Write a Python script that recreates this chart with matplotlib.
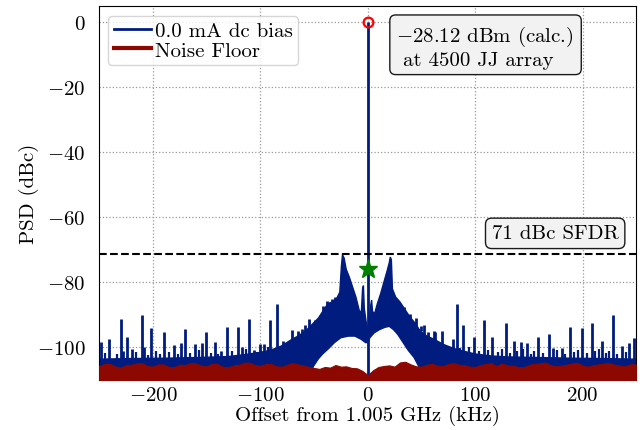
import matplotlib
matplotlib.use("Agg")
import matplotlib.pyplot as plt
from matplotlib.lines import Line2D

plt.rcParams["font.family"] = "serif"
plt.rcParams["font.serif"] = ["cmr10"]
plt.rcParams["mathtext.fontset"] = "cm"
plt.rcParams["axes.formatter.use_mathtext"] = True
plt.rcParams["font.size"] = 15

# ---------------- data ----------------
# upper envelope of the dense 0.0 mA spectrum (kHz, dBc)
env_f = [-250, -220, -190, -160, -130, -115, -100, -90, -80, -72, -65, -58, -52, -46,
         -41, -37, -33, -29, -26, -24.5, -23.5, -22, -20, -17, -14, -11, -8, -6, -4.8,
         -4.0, -3.2, -1.5, 0, 1.5, 2.8, 3.6, 4.5, 6.5, 9, 12, 15, 18, 20, 21, 22, 23, 26,
         30, 34, 39, 44, 49, 55, 62, 70, 80, 90, 100, 115, 130, 160, 190, 220, 250]
env_db = [-103.6, -103.4, -103.3, -103.1, -102.8, -102.2, -101.5, -100.8, -99.5, -97.8,
          -96.5, -95.0, -93.0, -91.0, -88.5, -86.5, -86.0, -85.0, -83.0, -75.0, -71.5,
          -72.5, -76.0, -78.5, -81.5, -84.5, -88.5, -89.5, -82.0, -81.0, -88.0, -92.0,
          -95.0, -91.5, -87.0, -85.5, -89.0, -89.5, -86.5, -83.5, -80.0, -76.5, -74.0,
          -72.2, -73.0, -82.0, -84.5, -86.0, -88.0, -90.5, -92.5, -95.0, -96.5, -97.5,
          -99.0, -100.3, -101.2, -102.0, -102.6, -102.9, -103.1, -103.3, -103.4, -103.6]

# lower edge of the blue region around the carrier (top of the white gap)
gap_f = [-51, -46, -42, -37, -31, -25, -18, -12, -6, -2, 0, 2, 6, 11, 16, 20, 24, 28,
         33, 38, 43, 47, 50]
gap_db = [-106.0, -103.5, -102.0, -100.5, -98.5, -97.0, -96.5, -96.5, -97.5, -98.5,
          -98.5, -97.0, -95.5, -94.5, -93.8, -93.5, -94.5, -96.0, -98.5, -101.0, -103.0,
          -105.5, -107.0]

# discrete spurs on the wideband floor (kHz, dBc)
spur_f = [-248.5, -240.5, -229.9, -227.5, -223.8, -219.8, -210.2, -208.0, -202.0,
          -189.8, -180.5, -174.0, -170.0, -160.8, -154.6, -150.3, -142.3, -136.4,
          -130.6, -121.0, -117.0, -110.5, -106.0, -100.6, -96.3, -90.7, -84.5, -79.0,
          -70.6, -64.5, -61.4, -58.3, -54.9,
          56.0, 61.5,
          52.8, 63.0, 68.8, 79.0, 82.7, 88.9, 99.0, 108.3, 116.0, 128.4, 136.0, 142.3,
          148.5, 158.3, 168.5, 172.2, 180.9, 188.0, 199.4, 208.6, 218.5, 228.7, 236.4,
          243.5, 247.9]
spur_db = [-98.3, -97.4, -91.2, -101.0, -96.9, -100.5, -90.0, -99.8, -94.1,
           -95.1, -99.2, -98.6, -94.4, -98.8, -98.7, -95.1, -98.3, -101.0,
           -93.7, -93.8, -100.0, -91.4, -100.9, -98.8, -98.8, -91.7, -86.6, -98.0,
           -94.6, -95.0, -94.3, -93.0, -91.2,
           -95.3, -95.0,
           -93.1, -95.1, -94.8, -97.4, -86.6, -93.0, -96.7, -91.7, -96.9, -92.5, -98.0,
           -98.3, -98.5, -96.7, -95.9, -100.2, -100.3, -93.6, -94.0, -92.5, -98.0, -90.0,
           -99.5, -98.7, -97.2]

# jagged peaks of the close-in skirt, above the white gap (kHz, dBc)
skirt_f = [-49.0, -44.4, -41.4, -38.3, -33.6, -30.6, 34.0, 39.0, 45.0, 49.7]
skirt_db = [-91.5, -91.0, -87.4, -85.6, -85.0, -84.5, -87.6, -89.6, -91.0, -93.5]
skirt_base = -95.0

# small spikes on the wideband floor (kHz, dBc)
small_f = [-245.0, -233.0, -216.0, -205.0, -197.0, -193.0, -185.0, -177.0, -165.0,
           -157.0, -146.0, -139.0, -126.0, -113.0, -103.0, -93.0, -87.0, -75.0, -67.0,
           74.0, 86.0, 94.0, 104.0, 112.0, 121.0, 125.0, 132.0, 139.0, 145.0, 152.0,
           155.0, 163.0, 176.0, 184.0, 192.0, 196.0, 204.0, 212.0, 215.0, 222.0, 225.0,
           232.0, 240.0]
small_db = [-101.8, -102.0, -101.5, -102.2, -101.0, -101.9, -101.3, -102.1, -101.6,
            -100.9, -101.7, -102.0, -101.2, -100.6, -101.4, -99.8, -100.5, -99.3, -98.8,
            -99.6, -100.2, -99.9, -101.0, -100.8, -101.5, -100.6, -101.8, -101.1, -100.4,
            -101.9, -101.0, -101.6, -100.9, -102.0, -101.3, -100.7, -101.8, -101.2,
            -100.5, -101.7, -101.0, -102.1, -101.4]

# noise floor (kHz, dBc), every 5 kHz
floor_f = list(range(-250, 255, 5))
floor_db = [-105.6, -105.1, -105.0, -105.8, -106.2, -105.4, -105.3, -104.9, -104.8, -105.7,
            -105.9, -105.2, -105.2, -106.0, -106.0, -105.3, -105.4, -104.8, -104.9, -105.6,
            -105.8, -105.0, -105.1, -105.9, -106.1, -105.5, -105.3, -104.7, -104.7, -105.4,
            -105.6, -105.1, -105.0, -105.8, -105.9, -105.3, -104.8, -105.2, -105.5, -106.0,
            -106.3, -106.6, -106.0, -106.2, -105.4, -105.9, -105.8, -106.3, -106.4, -107.2,
            -108.5,
            -107.0, -106.0, -105.7, -105.5, -105.9, -104.6, -104.4, -105.2, -105.8, -105.9,
            -105.3, -105.0, -105.6, -105.7, -105.1, -104.8, -105.3, -105.4, -105.9, -106.0,
            -105.4, -105.1, -104.8, -105.7, -104.9, -105.5, -105.6, -106.0, -106.1, -105.4,
            -105.0, -104.9, -104.6, -105.4, -105.8, -105.6, -105.3, -104.9, -104.7, -105.5,
            -105.9, -105.4, -105.2, -104.9, -104.8, -105.3, -105.6, -105.8, -105.1, -105.3]

carrier_f = 0.0
carrier_db = 0.0
spur_max_f = 0.0
spur_max_db = -75.8
sfdr_line = -71.3

blue = "#001c7f"
red = "#8c0800"
ymin, ymax = -110, 5

# ---------------- figure ----------------
fig = plt.figure(figsize=(6.44, 4.31), dpi=100)
ax = fig.add_axes([0.154, 0.116, 0.834, 0.868])

# blue spectrum region: envelope on top, gap / bottom below
low_f = [250, 50] + gap_f[::-1] + [-51, -250]
low_db = [ymin, ymin] + gap_db[::-1] + [ymin, ymin]
ax.fill(env_f + low_f, env_db + low_db, color=blue, lw=1.0, zorder=2)
ax.vlines(spur_f, ymin, spur_db, color=blue, lw=2.0, zorder=2)
ax.vlines(skirt_f, skirt_base, skirt_db, color=blue, lw=2.0, zorder=2)
ax.vlines(small_f, ymin, small_db, color=blue, lw=1.6, zorder=2)
ax.vlines([carrier_f], ymin, [carrier_db], color=blue, lw=2.0, zorder=3)

# noise floor
ax.fill_between(floor_f, ymin, floor_db, color=red, lw=0.8, zorder=4)

ax.plot([carrier_f], [carrier_db], "o", mfc="none", mec="red", mew=1.6, ms=7, zorder=6)
ax.plot([spur_max_f], [spur_max_db], "*", color="green", ms=14, zorder=6)
ax.axhline(sfdr_line, color="k", ls="--", lw=1.5, zorder=5)

ax.set_xlim(-250, 250)
ax.set_ylim(ymin, ymax)
ax.set_xticks([-200, -100, 0, 100, 200])
ax.set_yticks([0, -20, -40, -60, -80, -100])
ax.tick_params(axis="x", length=0, pad=4)
ax.tick_params(axis="y", length=0, pad=10)
ax.grid(True, ls=":", color="0.6", lw=0.9)
ax.set_axisbelow(True)
ax.set_xlabel("Offset from 1.005 GHz (kHz)", labelpad=1)
ax.set_ylabel("PSD (dBc)", labelpad=-2)

handles = [Line2D([], [], color=blue, lw=2), Line2D([], [], color=red, lw=3)]
ax.legend(handles, ["0.0 mA dc bias", "Noise Floor"], loc="upper left",
          bbox_to_anchor=(0.017, 0.972), borderaxespad=0.0,
          handlelength=1.8, handletextpad=0.2, labelspacing=0.05, borderpad=0.25,
          fontsize=15)

ax.text(0.552, 0.952, "$-$28.12 dBm (calc.) \n at 4500 JJ array", transform=ax.transAxes,
        ha="left", va="top", fontsize=15, zorder=7, linespacing=1.2,
        bbox=dict(boxstyle="round,pad=0.28", fc="#f2f2f2", ec="0.1", lw=1))
ax.text(0.849, 0.392, "71 dBc SFDR", transform=ax.transAxes, ha="center", va="center",
        fontsize=15, zorder=7,
        bbox=dict(boxstyle="round,pad=0.3", fc="#f2f2f2", ec="0.1", lw=1))

fig.savefig("out.png", dpi=100)
